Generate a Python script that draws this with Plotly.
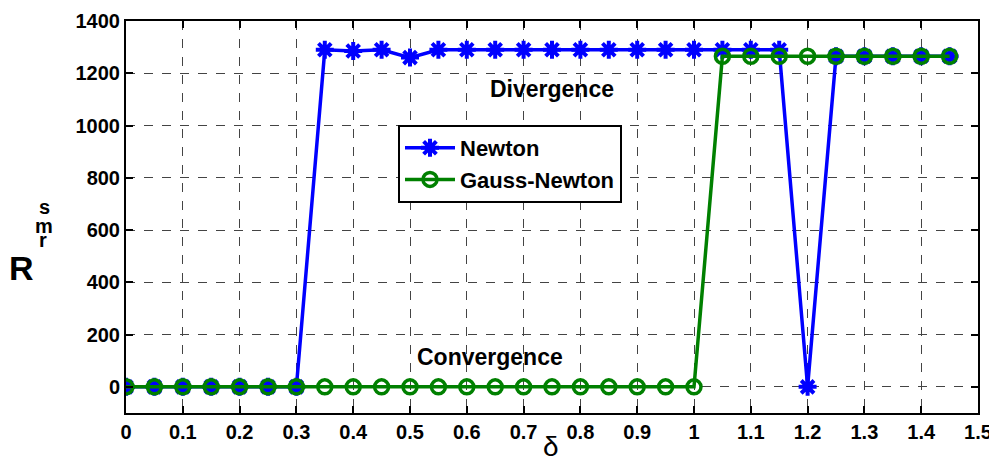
import plotly.graph_objects as go

delta = [round(0.05 * i, 2) for i in range(30)]
newton = [0, 0, 0, 0, 0, 0, 0, 1290, 1285, 1290, 1260, 1290, 1290, 1290, 1290, 1290,
          1290, 1290, 1290, 1290, 1290, 1290, 1290, 1290, 0, 1265, 1265, 1265, 1265, 1265]
gauss_newton = [0] * 21 + [1265] * 9
xticks = [round(0.1 * i, 1) for i in range(16)]
xticklabels = ["0", "0.1", "0.2", "0.3", "0.4", "0.5", "0.6", "0.7", "0.8", "0.9",
               "1", "1.1", "1.2", "1.3", "1.4", "1.5"]
yticks = [0, 200, 400, 600, 800, 1000, 1200, 1400]

FONT = "Liberation Sans, Arial, sans-serif"

# page body has an 8px margin; compensate so the visible image matches 997x461
OFF = 8
W, H = 997 - OFF, 461 - OFF
# target plot area in screen pixels: left 126, right 978, top 21, bottom 413
L, R, T, B = 126 - OFF, 997 - 978, 21 - OFF, 461 - 413
pw, ph = W - L - R, H - T - B


def px(xs, ys):
    """screen pixel -> paper coords"""
    xp, yp = xs - OFF, ys - OFF
    return (xp - L) / pw, (H - B - yp) / ph


fig = go.Figure()
fig.add_trace(go.Scatter(
    x=delta, y=newton, mode="lines+markers", name="Newton",
    line=dict(color="#0000ff", width=3.5),
    marker=dict(symbol="asterisk-open", size=15, color="#0000ff",
                line=dict(color="#0000ff", width=4)),
))
fig.add_trace(go.Scatter(
    x=delta, y=gauss_newton, mode="lines+markers", name="Gauss-Newton",
    line=dict(color="#008000", width=3.5),
    marker=dict(symbol="circle-open", size=14, color="#008000",
                line=dict(color="#008000", width=3.5)),
))

axis_common = dict(
    showline=True, linecolor="black", linewidth=2, mirror="ticks",
    ticks="inside", ticklen=7, tickwidth=2, tickcolor="black",
    showgrid=True, gridcolor="#444444", griddash="dash", gridwidth=1,
    zeroline=False, automargin=False,
    tickfont=dict(family=FONT, size=20, color="black", weight="bold"),
)

fig.update_xaxes(range=[0, 1.5], tickvals=xticks, ticktext=xticklabels,
                 **axis_common)
fig.update_yaxes(range=[-100, 1400], tickvals=yticks, **axis_common)

annotations = [
    dict(text="Divergence", x=0.75, y=1141, xref="x", yref="y", showarrow=False,
         yanchor="middle", xanchor="center",
         font=dict(family=FONT, size=23, color="black", weight="bold")),
    dict(text="Convergence", x=0.64, y=114, xref="x", yref="y", showarrow=False,
         yanchor="middle", xanchor="center",
         font=dict(family=FONT, size=23, color="black", weight="bold")),
]
dx, dy = px(551, 446)
annotations.append(dict(text="δ", x=dx, y=dy, xref="paper", yref="paper",
                        showarrow=False, xanchor="center", yanchor="middle",
                        font=dict(family=FONT, size=28, color="black")))
for txt, xs, ys, sz in [("R", 21, 268, 34), ("s", 44, 207, 20),
                        ("m", 44, 226, 20), ("r", 43, 240, 20)]:
    ax, ay = px(xs, ys)
    annotations.append(dict(text=txt, x=ax, y=ay, xref="paper", yref="paper",
                            showarrow=False, xanchor="center", yanchor="middle",
                            font=dict(family=FONT, size=sz, color="black",
                                      weight="bold")))

lx, ly = px(398, 125)
fig.update_layout(
    width=W, height=H,
    margin=dict(l=L, r=R, t=T, b=B),
    plot_bgcolor="white", paper_bgcolor="white",
    showlegend=True,
    legend=dict(x=lx, y=ly, xanchor="left", yanchor="top",
                bgcolor="white", bordercolor="black", borderwidth=2,
                font=dict(family=FONT, size=22, color="black", weight="bold"),
                itemwidth=50, tracegroupgap=0,
                entrywidth=240, entrywidthmode="pixels"),
    annotations=annotations,
)

fig.write_html("out.html")
